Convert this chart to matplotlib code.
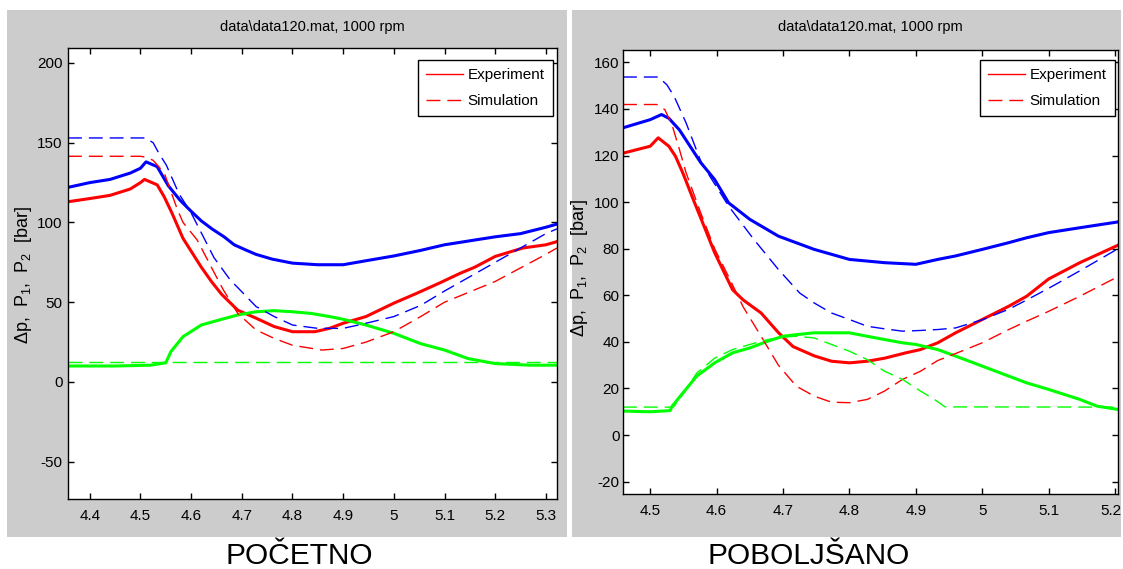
import matplotlib
matplotlib.use('Agg')
import matplotlib.pyplot as plt
import matplotlib.transforms as mtransforms
from matplotlib.patches import Rectangle
from matplotlib.lines import Line2D

W, H = 1123, 569

# ── Podaci: POČETNO (lijevo) ───────────────────────────────────────────
l_p1_exp_x = [4.357, 4.40, 4.44, 4.48, 4.50, 4.511, 4.533, 4.555, 4.578, 4.60, 4.62, 4.641,
              4.665, 4.685, 4.706, 4.728, 4.76, 4.80, 4.85, 4.90, 4.945, 5.00, 5.053, 5.10,
              5.15, 5.20, 5.25, 5.30, 5.322]
l_p1_exp_y = [122, 125, 127, 131, 134, 138, 135, 123, 114, 107, 101, 96,
              91, 86, 83, 80, 77, 74.5, 73.5, 73.5, 76, 79, 82.5, 86,
              88.5, 91, 93, 97, 99]

l_p2_exp_x = [4.357, 4.40, 4.44, 4.48, 4.50, 4.508, 4.533, 4.547, 4.562, 4.584, 4.60, 4.62,
              4.64, 4.66, 4.692, 4.728, 4.764, 4.80, 4.844, 4.873, 4.90, 4.945, 5.00, 5.046,
              5.09, 5.13, 5.16, 5.20, 5.255, 5.30, 5.322]
l_p2_exp_y = [113, 115, 117, 121, 125, 127, 123.6, 116, 106, 90, 82, 72,
              63, 55, 45, 40, 34.7, 31.5, 31.5, 33.6, 36.8, 41, 49.4, 55.7,
              62, 68, 72, 78.7, 84, 86, 88]

l_dp_exp_x = [4.357, 4.45, 4.52, 4.55, 4.56, 4.584, 4.62, 4.656, 4.692, 4.728, 4.764, 4.80,
              4.836, 4.873, 4.90, 4.945, 5.00, 5.053, 5.10, 5.146, 5.20, 5.27, 5.322]
l_dp_exp_y = [10, 10, 10.5, 12, 19, 28.4, 35.7, 38.9, 42, 44, 44.7, 44,
              43, 41, 39.3, 35.7, 30.5, 24, 20, 14.7, 11.5, 10.5, 10.5]

l_p1_sim_x = [4.357, 4.51, 4.525, 4.537, 4.551, 4.576, 4.60, 4.645, 4.677, 4.706, 4.728, 4.764,
              4.80, 4.85, 4.90, 4.93, 4.974, 5.00, 5.053, 5.10, 5.20, 5.30, 5.322]
l_p1_sim_y = [153, 153, 150, 143, 136, 118, 106, 78, 64, 54.6, 47.3, 41,
              35.7, 33.6, 33.6, 35.7, 39, 41, 48, 57, 75, 93, 96]

l_p2_sim_x = [4.357, 4.50, 4.51, 4.525, 4.547, 4.573, 4.584, 4.612, 4.648, 4.663, 4.692, 4.728,
              4.764, 4.80, 4.858, 4.90, 4.945, 5.00, 5.053, 5.10, 5.20, 5.30, 5.322]
l_p2_sim_y = [141.5, 141.5, 141, 139, 131, 108, 100, 89, 67, 58, 43, 32.6,
              27.3, 23, 20, 21, 25, 31.5, 41, 50, 63, 80, 84]

l_dp_sim_x = [4.357, 5.322]
l_dp_sim_y = [12.2, 12.2]

# ── Podaci: POBOLJŠANO (desno) ─────────────────────────────────────────
r_p1_exp_x = [4.459, 4.50, 4.517, 4.528, 4.544, 4.56, 4.576, 4.597, 4.618, 4.65, 4.693, 4.747,
              4.80, 4.853, 4.90, 4.933, 4.96, 5.00, 5.04, 5.067, 5.10, 5.147, 5.2045]
r_p1_exp_y = [131.9, 135.4, 137.6, 136, 131, 124, 117, 109.7, 99.7, 92.6, 85.4, 79.7,
              75.4, 74, 73.3, 75.4, 76.9, 79.7, 82.6, 84.7, 86.9, 89, 91.5]

r_p2_exp_x = [4.459, 4.50, 4.512, 4.528, 4.538, 4.549, 4.565, 4.581, 4.597, 4.624, 4.64, 4.667,
              4.693, 4.715, 4.747, 4.773, 4.80, 4.827, 4.853, 4.885, 4.907, 4.933, 4.96, 5.00,
              5.04, 5.067, 5.10, 5.147, 5.2045]
r_p2_exp_y = [121, 124, 127.6, 124, 119.7, 112.6, 101, 89.7, 78.3, 62.4, 58, 52.4,
              44, 38, 34, 31.7, 31, 31.7, 33, 35.3, 36.7, 39.6, 43.9, 49.6,
              55.3, 59.6, 67, 74, 81.5]

r_dp_exp_x = [4.459, 4.50, 4.53, 4.533, 4.549, 4.57, 4.597, 4.624, 4.65, 4.677, 4.70, 4.72,
              4.747, 4.80, 4.827, 4.853, 4.88, 4.90, 4.933, 4.96, 5.00, 5.04, 5.067, 5.10,
              5.147, 5.173, 5.2045]
r_dp_exp_y = [10.3, 10, 10.5, 12.4, 18, 25.3, 31, 35.3, 37.4, 40.3, 42.4, 43.1,
              43.9, 43.9, 42.4, 41, 39.6, 38.9, 36.7, 33.9, 29.6, 25.3, 22.4, 19.6,
              15.3, 12.4, 11]

r_p1_sim_x = [4.459, 4.512, 4.525, 4.536, 4.554, 4.577, 4.618, 4.656, 4.693, 4.725, 4.747, 4.773,
              4.80, 4.827, 4.853, 4.88, 4.907, 4.933, 4.96, 5.00, 5.04, 5.067, 5.10, 5.147, 5.2045]
r_p1_sim_y = [153.7, 153.7, 150.4, 145.4, 134, 116.9, 98.3, 84, 71.1, 61, 56.7, 52.4,
              49.6, 46.7, 45.6, 44.6, 44.9, 45.3, 46, 49.5, 54, 58, 63, 70.5, 80]

r_p2_sim_x = [4.459, 4.51, 4.522, 4.533, 4.544, 4.554, 4.576, 4.597, 4.618, 4.64, 4.667, 4.693,
              4.72, 4.747, 4.773, 4.80, 4.827, 4.853, 4.88, 4.907, 4.933, 4.96, 5.00, 5.04,
              5.067, 5.10, 5.147, 5.2045]
r_p2_sim_y = [141.9, 141.9, 139.7, 133, 122.6, 112.6, 95.4, 80, 68, 55, 42.4, 30,
              21, 16.7, 14.1, 13.9, 15.3, 18.9, 23.9, 27.4, 32, 35, 39.6, 45.3,
              48.9, 53.1, 59.6, 68]

r_dp_sim_x = [4.459, 4.535, 4.549, 4.57, 4.597, 4.624, 4.65, 4.677, 4.70, 4.72, 4.747, 4.773,
              4.80, 4.827, 4.853, 4.88, 4.907, 4.928, 4.944, 5.2045]
r_dp_sim_y = [12, 12, 17.4, 26.6, 33, 36.7, 38.9, 41, 42.1, 42.4, 41.7, 38.9,
              36, 32.4, 27.4, 23.9, 18.9, 15.3, 12.1, 12]

# ── Osi i oznake ───────────────────────────────────────────────────────
l_xticks = [4.4, 4.5, 4.6, 4.7, 4.8, 4.9, 5.0, 5.1, 5.2, 5.3]
l_xlabels = ['4.4', '4.5', '4.6', '4.7', '4.8', '4.9', '5', '5.1', '5.2', '5.3']
l_yticks = [-50, 0, 50, 100, 150, 200]
r_xticks = [4.5, 4.6, 4.7, 4.8, 4.9, 5.0, 5.1, 5.2]
r_xlabels = ['4.5', '4.6', '4.7', '4.8', '4.9', '5', '5.1', '5.2']
r_yticks = [-20, 0, 20, 40, 60, 80, 100, 120, 140, 160]

title = r'data\data120.mat, 1000 rpm'
ylab = r'$\Delta$p,  P$_1$,  P$_2$  [bar]'
fam = ['Liberation Sans', 'DejaVu Sans']
plt.rcParams['mathtext.fontset'] = 'custom'
plt.rcParams['mathtext.rm'] = 'Liberation Sans'
plt.rcParams['mathtext.it'] = 'Liberation Sans'
plt.rcParams['mathtext.default'] = 'regular'


def fr(x0, y0, x1, y1):
    # piksel (gore-lijevo) -> [left, bottom, width, height] u dijelu figure
    return [x0 / W, 1 - y1 / H, (x1 - x0) / W, (y1 - y0) / H]


fig = plt.figure(figsize=(W / 100, H / 100), dpi=100, facecolor='white')

for (x0, x1) in [(7, 567), (572, 1121)]:
    b = fr(x0, 10, x1, 537)
    fig.patches.append(Rectangle((b[0], b[1]), b[2], b[3], transform=fig.transFigure,
                                 facecolor='#cccccc', edgecolor='none', zorder=-5))


def panel(box, xlim, ylim, xticks, xlabels, yticks, series, leg_xy, ylab_xy, ypad):
    ax = fig.add_axes(fr(*box), zorder=2)
    ax.set_facecolor('white')
    for (x, y, c, sim) in series:
        if sim:
            ax.plot(x, y, color=c, lw=1.0, dashes=(10, 5))
        else:
            ax.plot(x, y, color=c, lw=2.2)
    ax.set_xlim(*xlim)
    ax.set_ylim(*ylim)
    ax.set_xticks(xticks)
    ax.set_xticklabels(xlabels, family=fam, fontsize=11)
    ax.set_yticks(yticks)
    ax.set_yticklabels([str(v) for v in yticks], family=fam, fontsize=11)
    ax.tick_params(direction='in', length=4, width=1.0, top=True, right=True, color='black')
    ax.tick_params(axis='x', pad=7)
    ax.tick_params(axis='y', pad=ypad)
    for s in ax.spines.values():
        s.set_linewidth(1.0)
    cx = (box[0] + box[2]) / 2
    fig.text(cx / W, 1 - 31 / H, title, ha='center', va='baseline',
             family=fam, fontsize=10.5)
    fig.text(ylab_xy[0] / W, 1 - ylab_xy[1] / H, ylab, rotation=90, ha='center', va='center',
             family=fam, fontsize=13)
    handles = [Line2D([], [], color='red', lw=1.0),
               Line2D([], [], color='red', lw=1.0, dashes=(10, 5))]
    leg = ax.legend(handles, ['Experiment', 'Simulation'], loc='upper right',
                    bbox_to_anchor=(leg_xy[0] / W, 1 - leg_xy[1] / H),
                    bbox_transform=fig.transFigure, borderaxespad=0,
                    prop={'family': fam, 'size': 11}, fancybox=False,
                    edgecolor='black', framealpha=1, handlelength=2.4,
                    handletextpad=0.3, labelspacing=0.75, borderpad=0.55)
    leg.get_frame().set_linewidth(1.0)
    return ax


panel((68, 48, 557, 499), (4.357, 5.322), (-73.4, 209.4), l_xticks, l_xlabels, l_yticks,
      [(l_p1_exp_x, l_p1_exp_y, 'blue', False), (l_p2_exp_x, l_p2_exp_y, 'red', False),
       (l_dp_exp_x, l_dp_exp_y, '#00ff00', False),
       (l_p1_sim_x, l_p1_sim_y, 'blue', True), (l_p2_sim_x, l_p2_sim_y, 'red', True),
       (l_dp_sim_x, l_dp_sim_y, '#00ff00', True)],
      (553, 60), (24, 275), 4)

ax_r = panel((623, 50, 1118, 494), (4.459, 5.2045), (-25.3, 165.3), r_xticks, r_xlabels, r_yticks,
             [(r_p1_exp_x, r_p1_exp_y, 'blue', False), (r_p2_exp_x, r_p2_exp_y, 'red', False),
              (r_dp_exp_x, r_dp_exp_y, '#00ff00', False),
              (r_p1_sim_x, r_p1_sim_y, 'blue', True), (r_p2_sim_x, r_p2_sim_y, 'red', True),
              (r_dp_sim_x, r_dp_sim_y, '#00ff00', True)],
             (1115, 60), (580, 268), 2.5)

# zadnja oznaka (5.2) sjedi na samom rubu slike - malo je pomaknuti ulijevo
last = ax_r.get_xticklabels()[-1]
last.set_transform(last.get_transform() + mtransforms.ScaledTranslation(-4 / 100, 0, fig.dpi_scale_trans))

fig.text(299 / W, 1 - 564 / H, 'POČETNO', ha='center', va='baseline',
         family=fam, fontsize=21.5)
fig.text(809 / W, 1 - 564 / H, 'POBOLJŠANO', ha='center', va='baseline',
         family=fam, fontsize=21.5)

fig.savefig('out.png', dpi=100)
